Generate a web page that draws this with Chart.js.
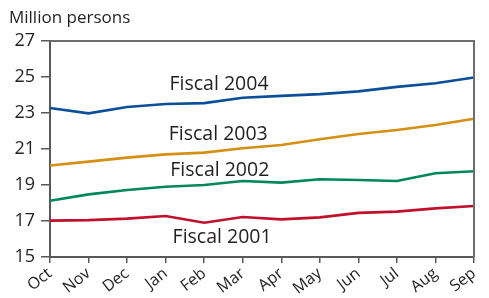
<!DOCTYPE html>
<html>
<head>
<meta charset="utf-8">
<script src="https://cdn.jsdelivr.net/npm/chart.js@4.4.1/dist/chart.umd.min.js"></script>
<style>
  html, body { margin: 0; padding: 0; background: #fff; }
  #wrap { width: 489px; height: 298px; position: relative; }
</style>
</head>
<body>
<div id="wrap"><canvas id="lineChart"></canvas></div>
<script>
// months of the fiscal year
var months = ['Oct', 'Nov', 'Dec', 'Jan', 'Feb', 'Mar', 'Apr', 'May', 'Jun', 'Jul', 'Aug', 'Sep'];

// million persons
var fy2001 = [17.02, 17.05, 17.13, 17.28, 16.90, 17.22, 17.09, 17.20, 17.45, 17.52, 17.70, 17.83];
var fy2002 = [18.13, 18.48, 18.72, 18.90, 19.00, 19.22, 19.13, 19.32, 19.28, 19.22, 19.65, 19.76];
var fy2003 = [20.08, 20.30, 20.52, 20.70, 20.80, 21.04, 21.22, 21.54, 21.83, 22.06, 22.33, 22.68];
var fy2004 = [23.28, 22.98, 23.33, 23.50, 23.55, 23.85, 23.95, 24.05, 24.20, 24.45, 24.65, 24.97];

var yTicks = [15, 17, 19, 21, 23, 25, 27];

// series name labels, placed in data units (month index, value)
var labelNames = ['Fiscal 2004', 'Fiscal 2003', 'Fiscal 2002', 'Fiscal 2001'];
var labelAt    = [[3.1, 24.56], [3.08, 21.82], [3.12, 19.83], [3.18, 16.1]];

var textColor = '#231f20';
var fontFam = '"Open Sans", "DejaVu Sans", sans-serif';

var framePlugin = {
	id: 'frame',
	afterDatasetsDraw: function(chart){
		var ctx = chart.ctx, a = chart.chartArea;
		var xs = chart.scales.x, ys = chart.scales.y;
		ctx.save();
		// top and right edges of the box
		ctx.strokeStyle = '#6d6e70';
		ctx.lineWidth = 2;
		ctx.beginPath();
		ctx.moveTo(a.left, a.top);
		ctx.lineTo(a.right, a.top);
		ctx.lineTo(a.right, a.bottom);
		ctx.stroke();
		// axis title
		ctx.fillStyle = textColor;
		ctx.font = '17px ' + fontFam;
		ctx.textAlign = 'left';
		ctx.textBaseline = 'middle';
		ctx.fillText('Million persons', 9, 18);
		// series names
		ctx.font = '19.5px ' + fontFam;
		for(var i = 0; i < labelNames.length; i++){
			ctx.fillText(labelNames[i], xs.getPixelForValue(labelAt[i][0]), ys.getPixelForValue(labelAt[i][1]));
		}
		ctx.restore();
	}
};

function line(label, data, color){
	return {
		label: label,
		data: data,
		borderColor: color,
		backgroundColor: color,
		borderWidth: 2.6,
		pointRadius: 0,
		tension: 0,
		fill: false
	};
}

var lineChart = new Chart(document.getElementById('lineChart').getContext('2d'), {
	type: 'line',
	data: {
		labels: months,
		datasets: [
			line('Fiscal 2004', fy2004, '#0a4f98'),
			line('Fiscal 2003', fy2003, '#d58f12'),
			line('Fiscal 2002', fy2002, '#00875a'),
			line('Fiscal 2001', fy2001, '#c0102b')
		]
	},
	options: {
		responsive: true,
		maintainAspectRatio: false,
		animation: false,
		layout: { padding: { top: 41, right: 15, left: 0, bottom: 0 } },
		plugins: { legend: { display: false }, tooltip: { enabled: false } },
		scales: {
			x: {
				offset: false,
				grid: { drawOnChartArea: false, drawTicks: true, tickLength: 6, color: '#58595b', lineWidth: 1.5 },
				border: { color: '#58595b', width: 2 },
				ticks: {
					color: textColor,
					font: { family: fontFam, size: 16 },
					maxRotation: 38,
					minRotation: 38,
					autoSkip: false,
					padding: 1
				},
				afterFit: function(scale){ scale.height = 41; }
			},
			y: {
				min: 15,
				max: 27,
				afterBuildTicks: function(scale){
					scale.ticks = yTicks.map(function(v){ return { value: v }; });
				},
				grid: { drawOnChartArea: false, drawTicks: true, tickLength: 9, color: '#58595b', lineWidth: 1.5 },
				border: { color: '#58595b', width: 2 },
				ticks: {
					color: textColor,
					font: { family: fontFam, size: 18 },
					padding: 6
				},
				afterFit: function(scale){ scale.width = 50; }
			}
		}
	},
	plugins: [framePlugin]
});
</script>
</body>
</html>
